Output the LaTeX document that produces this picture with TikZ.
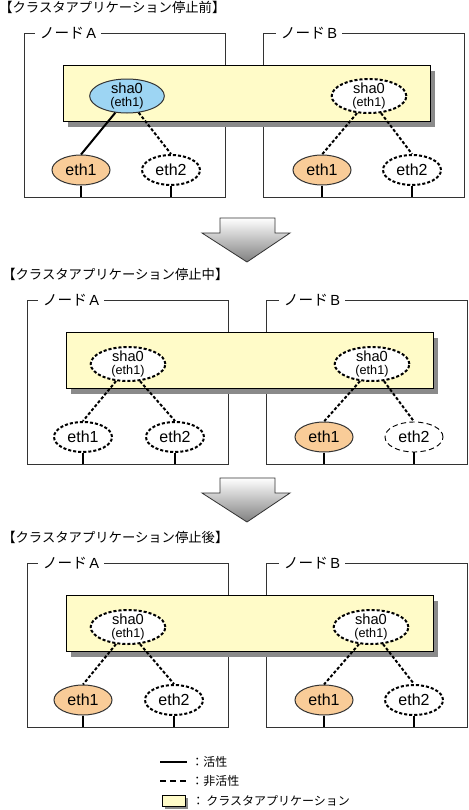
\documentclass[tikz,border=0pt]{standalone}
\usepackage{fontspec}
\setmainfont{Liberation Sans}
\newfontfamily\jp{Noto Sans CJK JP}
\usetikzlibrary{shapes.geometric,calc}
\definecolor{appyel}{HTML}{FFFBC8}
\definecolor{actblue}{HTML}{9DD5F3}
\definecolor{ethor}{HTML}{F9CC98}
\definecolor{boxln}{HTML}{333333}
\definecolor{shad}{HTML}{8A8A8A}
\tikzset{
  nodebox/.style={draw=boxln, line width=0.75pt},
  appbox/.style={draw=black, fill=appyel, line width=0.75pt},
  boxlbl/.style={fill=white, inner xsep=3.5pt, inner ysep=1pt, font=\fontsize{11}{11}\selectfont},
  ttl/.style={inner sep=0pt, font=\jp\fontsize{10}{10}\selectfont},
  lgtxt/.style={inner sep=0pt, font=\jp\fontsize{9}{9}\selectfont},
  ell/.style={ellipse, inner sep=0pt},
  shabase/.style={ell, minimum width=56pt, minimum height=25.5pt},
  ethbase/.style={ell, minimum width=43.5pt, minimum height=22.5pt, font=\fontsize{12}{12}\selectfont},
  solidell/.style={draw=boxln, line width=0.75pt},
  dashell/.style={draw=black, fill=white, line width=1.5pt, dash pattern=on 2.3pt off 1.5pt},
  thindashell/.style={draw=black, fill=white, line width=0.7pt, dash pattern=on 4pt off 2.5pt},
  shaact/.style={shabase, solidell, fill=actblue},
  shainact/.style={shabase, dashell},
  ethact/.style={ethbase, solidell, fill=ethor},
  ethinact/.style={ethbase, dashell},
  eththin/.style={ethbase, thindashell},
  shatxt/.style={inner sep=0pt, align=center, font=\fontsize{11}{9.5}\selectfont},
  actln/.style={draw=black, line width=1.5pt},
  inactln/.style={draw=black, line width=1.5pt, dash pattern=on 2.3pt off 1.5pt},
  stub/.style={draw=black, line width=1.5pt},
  bigarrow/.style={draw=boxln, line width=0.6pt, top color=white, bottom color=black!50},
}
\newcommand\panelframe[2]{%
  \node[ttl, anchor=west] (#1t) at (-1,7) {#2};
  \draw[nodebox] (24,33) rectangle (225,197);
  \draw[nodebox] (263,33) rectangle (464,197);
  \node[boxlbl, anchor=west] (#1Al) at (35,33) {{\jp ノード}\,A};
  \node[boxlbl, anchor=west] (#1Bl) at (276,33) {{\jp ノード}\,B};
  \coordinate (#1bot) at (0,197);
  \fill[shad] (68,71) rectangle (435,127);
  \draw[appbox] (63,65) rectangle (430,121);
}
\newcommand\shalabel[1]{\node[shatxt] (#1t) at (#1) {sha0\\{\fontsize{9.5}{9.5}\selectfont (eth1)}};}
\begin{document}
\begin{tikzpicture}[x=0.75pt, y=-0.75pt]
\useasboundingbox (0,0) rectangle (468,810);
\fill[white] (0,0) rectangle (468,810);

% ---------- Panel 1 ----------
\begin{scope}
\panelframe{p1}{【クラスタアプリケーション停止前】}
\node[shaact] (p1sA) at (127,96) {};
\shalabel{p1sA}
\node[shainact] (p1sB) at (369,96) {};
\shalabel{p1sB}
\node[ethact] (p1a1) at (81,170) {eth1};
\node[ethinact] (p1a2) at (171,170) {eth2};
\node[ethact] (p1b1) at (322,170) {eth1};
\node[ethinact] (p1b2) at (412,170) {eth2};
\draw[actln] (p1sA.235) -- (p1a1.north);
\draw[inactln] (p1sA.305) -- (p1a2.north);
\draw[inactln] (p1sB.235) -- (p1b1.north);
\draw[inactln] (p1sB.305) -- (p1b2.north);
\foreach \n in {p1a1,p1a2,p1b1,p1b2}{\draw[stub] (\n.south) -- (\n.south |- p1bot);}
\end{scope}

% ---------- Arrow 1 ----------
\coordinate (ar1) at (247,262);
\path[bigarrow] (220,218) -- (275,218) -- (275,233) -- (290,233) -- (ar1) -- (202,233) -- (220,233) -- cycle;

% ---------- Panel 2 ----------
\begin{scope}[shift={(3,267)}]
\panelframe{p2}{【クラスタアプリケーション停止中】}
\node[shainact] (p2sA) at (125,97) {};
\shalabel{p2sA}
\node[shainact] (p2sB) at (369,97) {};
\shalabel{p2sB}
\node[ethinact] (p2a1) at (80,170) {eth1};
\node[ethinact] (p2a2) at (172,170) {eth2};
\node[ethact] (p2b1) at (321,170) {eth1};
\node[eththin] (p2b2) at (411,170) {eth2};
\draw[inactln] (p2sA.235) -- (p2a1.north);
\draw[inactln] (p2sA.305) -- (p2a2.north);
\draw[inactln] (p2sB.235) -- (p2b1.north);
\draw[inactln] (p2sB.305) -- (p2b2.north);
\foreach \n in {p2a1,p2a2,p2b1,p2b2}{\draw[stub] (\n.south) -- (\n.south |- p2bot);}
\end{scope}

% ---------- Arrow 2 ----------
\coordinate (ar2) at (247,522);
\path[bigarrow] (220,478) -- (275,478) -- (275,493) -- (290,493) -- (ar2) -- (202,493) -- (220,493) -- cycle;

% ---------- Panel 3 ----------
\begin{scope}[shift={(3,530)}]
\panelframe{p3}{【クラスタアプリケーション停止後】}
\node[shainact] (p3sA) at (125,97) {};
\shalabel{p3sA}
\node[shainact] (p3sB) at (368,97) {};
\shalabel{p3sB}
\node[ethact] (p3a1) at (80,170) {eth1};
\node[ethinact] (p3a2) at (171,170) {eth2};
\node[ethact] (p3b1) at (321,170) {eth1};
\node[ethinact] (p3b2) at (411,170) {eth2};
\draw[inactln] (p3sA.235) -- (p3a1.north);
\draw[inactln] (p3sA.305) -- (p3a2.north);
\draw[inactln] (p3sB.235) -- (p3b1.north);
\draw[inactln] (p3sB.305) -- (p3b2.north);
\foreach \n in {p3a1,p3a2,p3b1,p3b2}{\draw[stub] (\n.south) -- (\n.south |- p3bot);}
\end{scope}

% ---------- Legend ----------
\coordinate (lg1a) at (160,762);
\coordinate (lg1b) at (187,762);
\draw[actln] (lg1a) -- (lg1b);
\node[lgtxt, anchor=west] (lg1t) at (191,762) {：活性};
\coordinate (lg2a) at (160,781);
\coordinate (lg2b) at (187,781);
\draw[line width=1.5pt, dash pattern=on 4.5pt off 3pt] (lg2a) -- (lg2b);
\node[lgtxt, anchor=west] (lg2t) at (191,781) {：非活性};
\fill[shad] (165,798) rectangle (188,809);
\draw[appbox] (162,795) rectangle (185,806);
\node[lgtxt, anchor=west] (lg3t) at (192,801) {：\,クラスタアプリケーション};
\end{tikzpicture}
\end{document}
